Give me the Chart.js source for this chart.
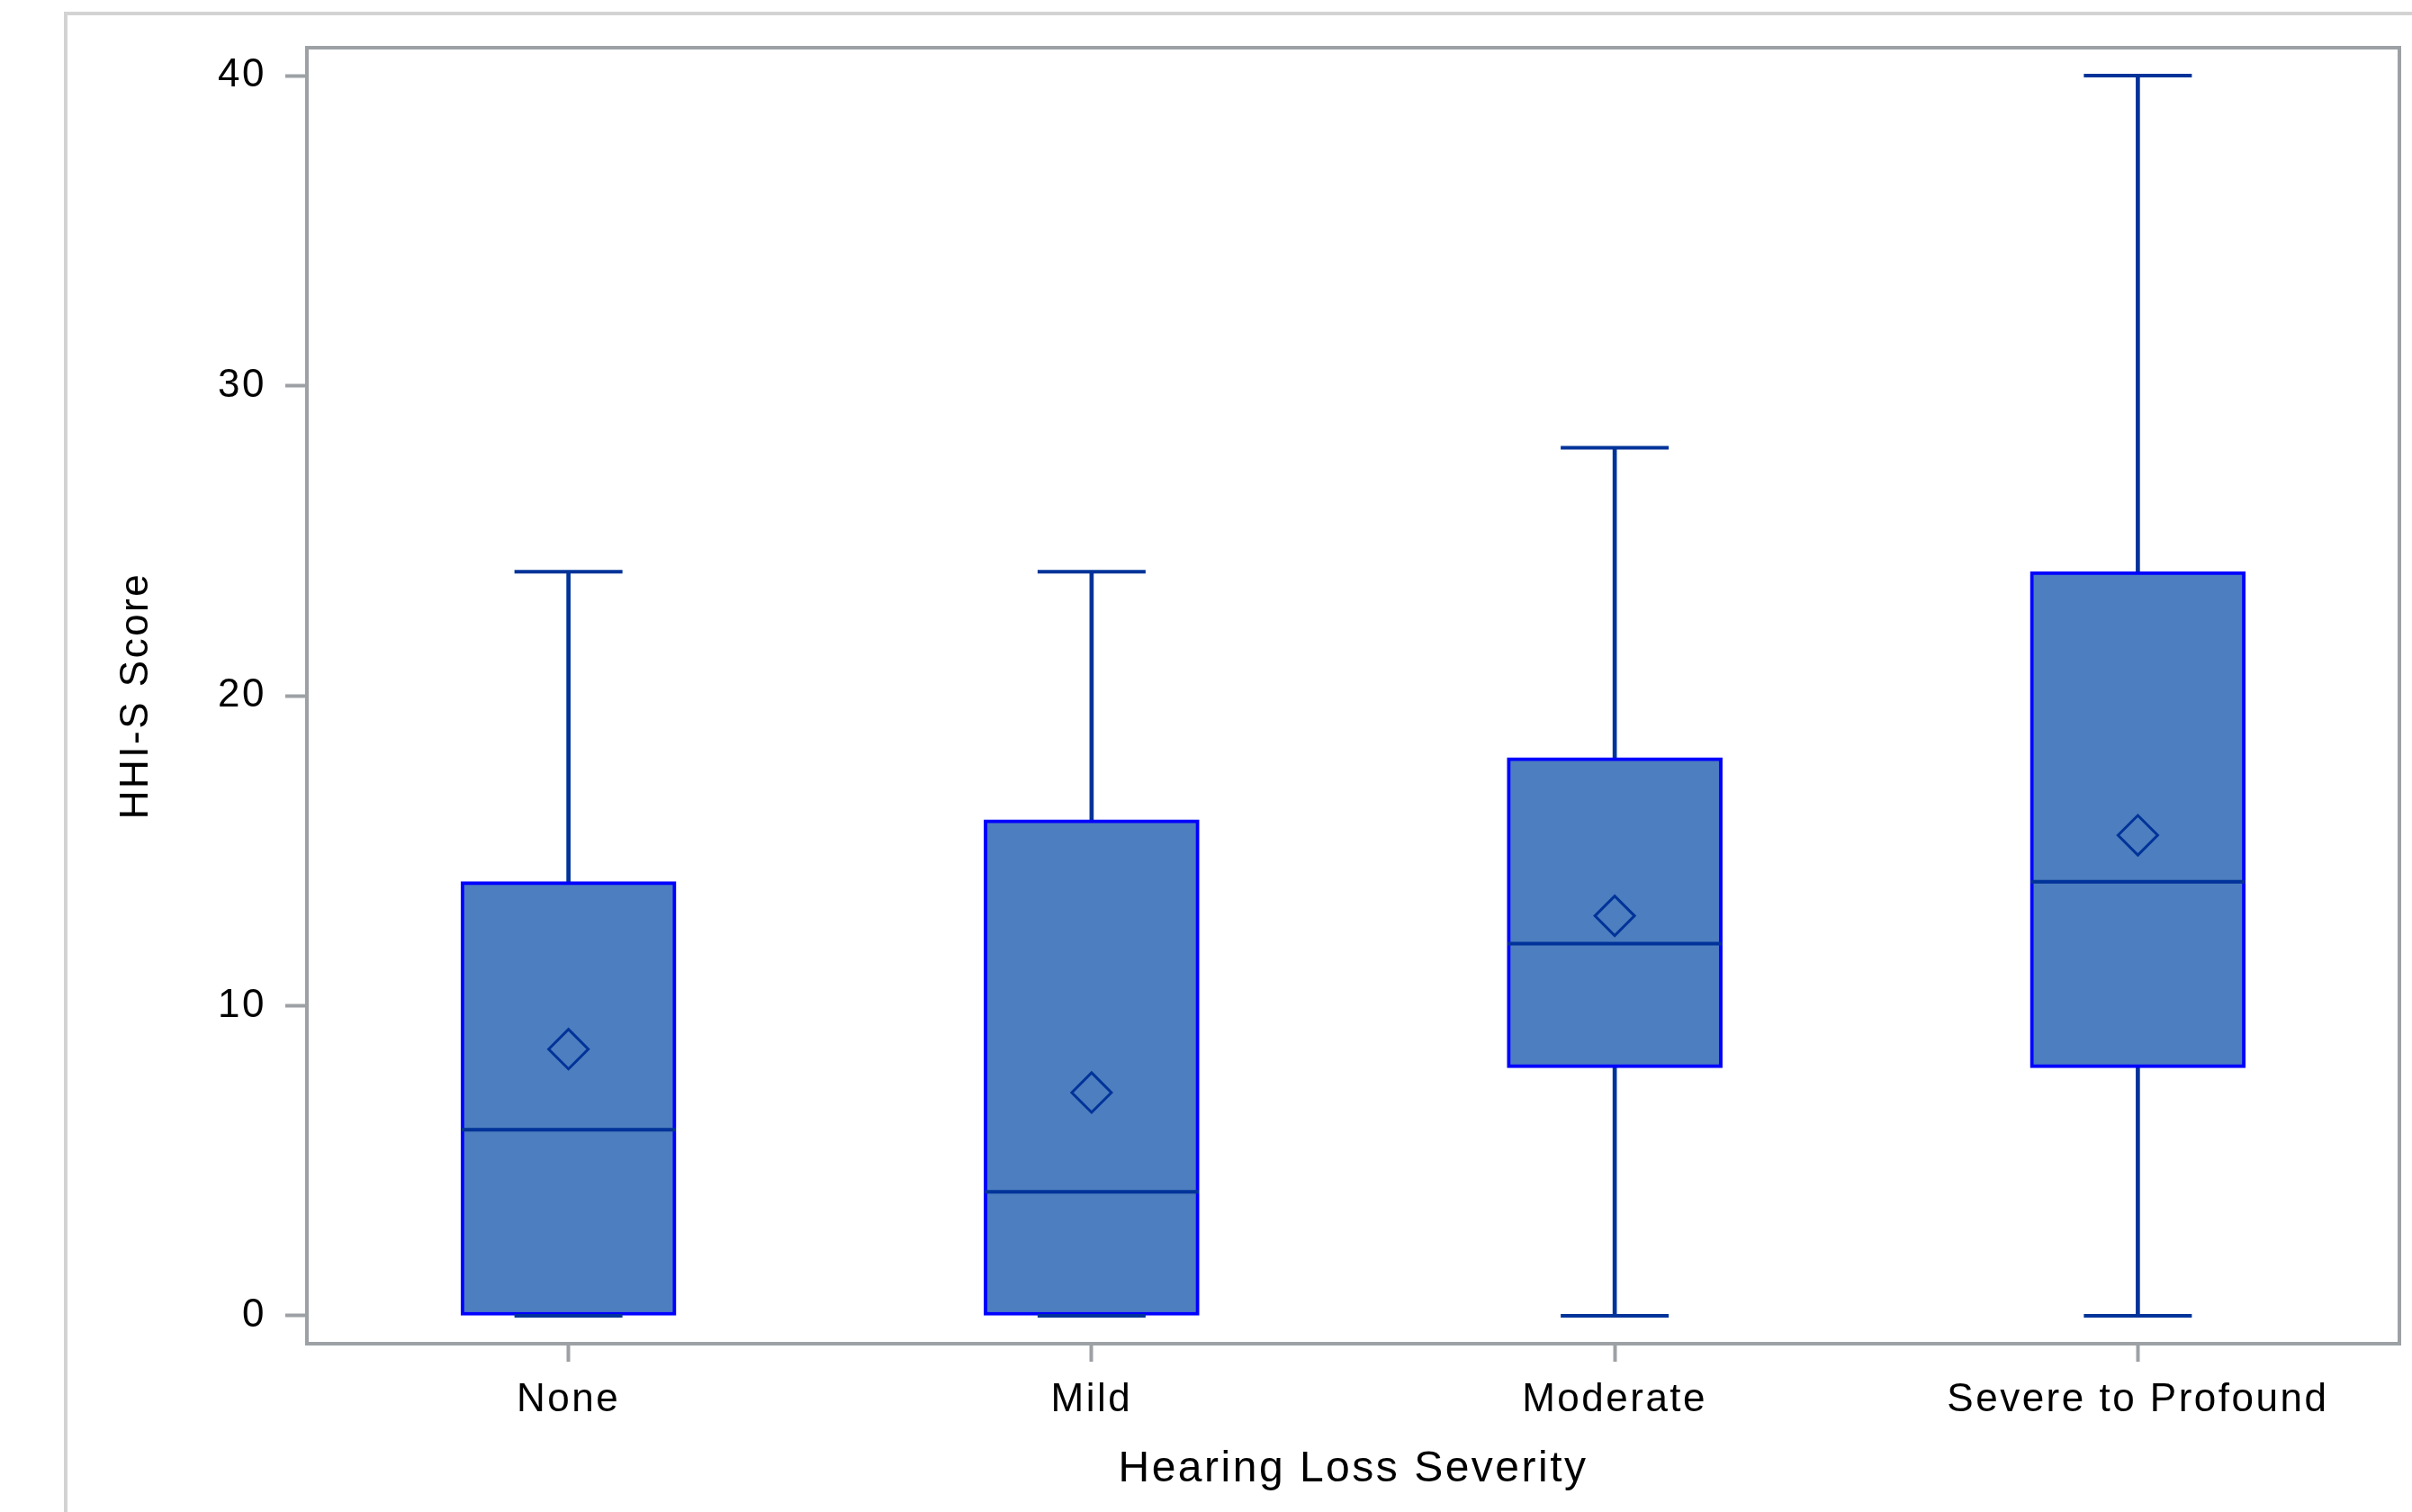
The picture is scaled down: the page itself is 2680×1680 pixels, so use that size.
<!DOCTYPE html>
<html>
<head>
<meta charset="utf-8">
<script src="https://cdn.jsdelivr.net/npm/chart.js@4/dist/chart.umd.min.js"></script>
<style>
  html, body { margin: 0; padding: 0; background: #fff; }
  #wrap { position: relative; width: 2680px; height: 1680px; overflow: hidden; }
  #frame {
    position: absolute; left: 71px; top: 13px; width: 2700px; height: 1700px;
    border-left: 4px solid #d3d3d3; border-top: 4px solid #d3d3d3;
  }
  canvas { position: absolute; left: 0; top: 0; }
</style>
</head>
<body>
<div id="wrap">
  <div id="frame"></div>
  <canvas id="chart" width="2680" height="1680"></canvas>
</div>
<script>
// =============================
// DATOS
// =============================
const categories = ["None", "Mild", "Moderate", "Severe to Profound"];
const minVals    = [0, 0, 0, 0];
const q1Vals     = [0, 0, 8, 8];
const medianVals = [6, 4, 12, 14];
const q3Vals     = [14, 16, 18, 24];
const maxVals    = [24, 24, 28, 40];
const meanVals   = [8.6, 7.2, 12.9, 15.5];
const yTicks     = [0, 10, 20, 30, 40];

// =============================
// COLORES / FUENTES
// =============================
const FILL = "#4d7ebf";
const EDGE = "#0000ff";
const DARK = "#003399";
const AXIS = "#9da1a5";
const FONT = "'Liberation Sans', Arial, sans-serif";

// marco del area del grafico + espaciado de letras
const framePlugin = {
  id: "frame",
  beforeUpdate(chart) { chart.ctx.letterSpacing = "2.5px"; },
  beforeDraw(chart) { chart.ctx.letterSpacing = "2.5px"; },
  afterDatasetsDraw(chart) {
    const { ctx, chartArea: a } = chart;
    ctx.save();
    ctx.strokeStyle = AXIS;
    ctx.lineWidth = 4;
    ctx.strokeRect(a.left, a.top, a.right - a.left, a.bottom - a.top);
    ctx.restore();
  }
};

new Chart(document.getElementById("chart"), {
  type: "bar",
  data: {
    labels: categories,
    datasets: [
      {
        // bigote superior
        data: categories.map((_, i) => [q3Vals[i], maxVals[i]]),
        backgroundColor: DARK,
        borderWidth: 0,
        barThickness: 4,
        grouped: false,
        order: 6
      },
      {
        // bigote inferior
        data: categories.map((_, i) => [minVals[i], q1Vals[i]]),
        backgroundColor: DARK,
        borderWidth: 0,
        barThickness: 4,
        grouped: false,
        order: 5
      },
      {
        // caja Q1-Q3
        data: categories.map((_, i) => [q1Vals[i], q3Vals[i]]),
        backgroundColor: FILL,
        borderColor: EDGE,
        borderWidth: 4,
        borderSkipped: false,
        barThickness: 239,
        grouped: false,
        order: 4
      },
      {
        type: "line",
        data: maxVals,
        showLine: false,
        pointStyle: "line",
        pointRadius: 60,
        pointBorderWidth: 4,
        pointBorderColor: DARK,
        order: 3
      },
      {
        type: "line",
        data: minVals,
        showLine: false,
        pointStyle: "line",
        pointRadius: 60,
        pointBorderWidth: 4,
        pointBorderColor: DARK,
        order: 3
      },
      {
        // mediana
        type: "line",
        data: medianVals,
        showLine: false,
        pointStyle: "line",
        pointRadius: 119,
        pointBorderWidth: 4,
        pointBorderColor: DARK,
        order: 2
      },
      {
        // media
        type: "line",
        data: meanVals,
        showLine: false,
        pointStyle: "rectRot",
        pointRadius: 22,
        pointBorderWidth: 3,
        pointBorderColor: DARK,
        pointBackgroundColor: "rgba(0,0,0,0)",
        order: 1
      }
    ]
  },
  options: {
    responsive: false,
    devicePixelRatio: 1,
    animation: false,
    events: [],
    layout: {
      autoPadding: false,
      padding: { left: 100, top: 53, right: 14, bottom: 0 }
    },
    plugins: {
      legend: { display: false },
      tooltip: { enabled: false }
    },
    scales: {
      x: {
        offset: true,
        border: { display: false },
        grid: {
          offset: false,
          drawOnChartArea: false,
          tickLength: 20,
          tickWidth: 4,
          tickColor: AXIS
        },
        ticks: {
          color: "#000",
          padding: 16,
          maxRotation: 0,
          font: { family: FONT, size: 44 }
        },
        title: {
          display: true,
          text: "Hearing Loss Severity",
          color: "#000",
          font: { family: FONT, size: 48 },
          padding: { top: 0, bottom: 18 }
        },
        afterFit(scale) { scale.height = 187; }
      },
      y: {
        min: -0.9,
        max: 40.9,
        border: { display: false },
        grid: {
          drawOnChartArea: false,
          tickLength: 24,
          tickWidth: 4,
          tickColor: AXIS
        },
        ticks: {
          color: "#000",
          padding: 21,
          font: { family: FONT, size: 44 }
        },
        afterBuildTicks(scale) {
          scale.ticks = yTicks.map(v => ({ value: v }));
        },
        title: {
          display: true,
          text: "HHI-S Score",
          color: "#000",
          font: { family: FONT, size: 44 },
          padding: { top: 25, bottom: 0 }
        },
        afterFit(scale) { scale.width = 241; }
      }
    }
  },
  plugins: [framePlugin]
});
</script>
</body>
</html>
